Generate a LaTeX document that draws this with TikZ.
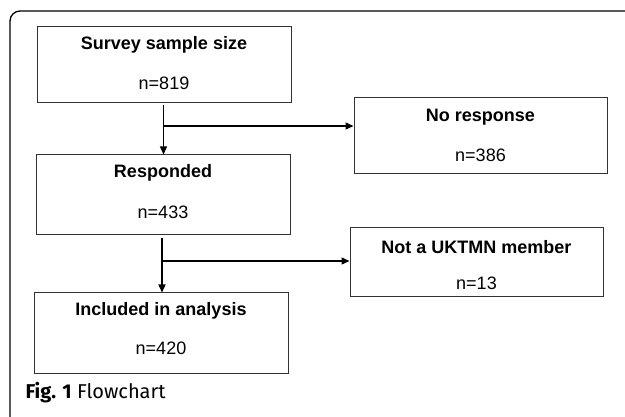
\documentclass[tikz,border=0pt]{standalone}
\usepackage{fontspec}
\setmainfont{Liberation Sans}
\newfontfamily\capfont{Fira Sans}
\usetikzlibrary{arrows.meta}
\begin{document}
\begin{tikzpicture}[x=1pt,y=-1pt,
  fbox/.style={draw=black!80,line width=1pt,minimum width=254pt,inner sep=0pt},
  ttl/.style={font=\fontsize{18}{21}\selectfont\bfseries},
  num/.style={font=\fontsize{18}{21}\selectfont},
  conn/.style={line width=1.3pt,-{Triangle[length=8pt,width=7pt]}},
  cline/.style={line width=1.3pt}]
\useasboundingbox (0,0) rectangle (625,417);
\draw[line width=1.3pt,rounded corners=10pt] (10,420) -- (10,11) -- (630,11);
% boxes
\node[fbox,minimum height=76pt] (b1) at (164,65) {};
\node[ttl] (t1) at (164,45) {Survey sample size};
\node[num] (n1) at (164,83) {n=819};
\node[fbox,minimum height=80pt] (b2) at (163,195) {};
\node[ttl] (t2) at (163,173) {Responded};
\node[num] (n2) at (163,212) {n=433};
\node[fbox,minimum height=81pt] (b3) at (161,333.5) {};
\node[ttl] (t3) at (161,311) {Included in analysis};
\node[num] (n3) at (161,348) {n=420};
\node[fbox,minimum width=253pt,minimum height=76pt] (b4) at (480.5,136) {};
\node[ttl] (t4) at (480.5,117) {No response};
\node[num] (n4) at (480.5,155) {n=386};
\node[fbox,minimum width=253pt,minimum height=69pt] (b5) at (476.5,262.5) {};
\node[ttl] (t5) at (476.5,247) {Not a UKTMN member};
\node[num] (n5) at (476.5,283) {n=13};
% connectors
\coordinate (j1) at (163.5,126);
\coordinate (j2) at (162,261);
\coordinate (s1) at (163.5,105);
\coordinate (s2) at (162,238);
\draw[conn] (s1) -- (b2.north -| s1);
\draw[conn] (j1) -- (b4.west |- j1);
\draw[conn] (s2) -- (b3.north -| s2);
\draw[conn] (j2) -- (b5.west |- j2);
\node[anchor=west,font=\capfont\fontsize{20}{24}\selectfont] (cap) at (22,393) {\textbf{Fig. 1} Flowchart};
\end{tikzpicture}
\end{document}
